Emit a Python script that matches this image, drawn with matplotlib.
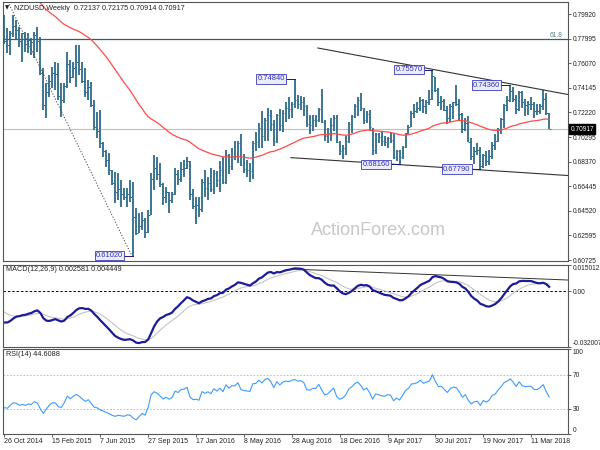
import numpy as np
import matplotlib.pyplot as plt

plt.rcParams['font.family'] = ['Liberation Sans', 'DejaVu Sans']

# NZDUSD weekly bars, 26 Oct 2014 .. 22 Apr 2018
highs = [
    .7984, .7880, .7860, .7984, .7945, .7890, .7843, .7851, .7843, .7804,
    .7851, .7890, .7812, .7570, .7452, .7515, .7577, .7617, .7609, .7452,
    .7452, .7695, .7632, .7617, .7749, .7749, .7617, .7570, .7476, .7460,
    .7319, .7225, .7241, .6991, .6925, .6904, .6771, .6756, .6748, .6693,
    .6631, .6631, .6693, .6678, .6474, .6435, .6443, .6396, .6458, .6748,
    .6889, .6873, .6826, .6670, .6638, .6600, .6599, .6787, .6771, .6834,
    .6850, .6873, .6840, .6620, .6560, .6560, .6700, .6770, .6720, .6790,
    .6770, .6760, .6840, .6870, .6930, .6900, .6940, .7000, .7000, .7050,
    .6900, .6850, .6830, .7000, .7070, .7140, .7230, .7180, .7260, .7240,
    .7160, .7210, .7250, .7240, .7300, .7340, .7300, .7484, .7360, .7350,
    .7340, .7280, .7200, .7200, .7200, .7260, .7403, .7160, .7100, .7180,
    .7200, .7200, .7000, .6970, .7040, .7150, .7200, .7290, .7340, .7375,
    .7260, .7230, .7240, .7100, .7060, .7060, .7070, .7040, .7030, .7060,
    .7050, .6930, .6930, .6960, .7060, .7120, .7230, .7290, .7300, .7340,
    .7330, .7320, .7400, .7557, .7500, .7410, .7350, .7330, .7270, .7290,
    .7300, .7435, .7330, .7220, .7180, .7190, .7020, .6950, .6980, .6950,
    .6900, .6920, .6930, .6990, .7050, .7100, .7180, .7290, .7350, .7436,
    .7420, .7360, .7390, .7390, .7330, .7310, .7340, .7300, .7290, .7290,
    .7400, .7370, .72175]
lows = [
    .7760, .7690, .7670, .7812, .7789, .7734, .7617, .7695, .7687, .7671,
    .7648, .7695, .7515, .7241, .7178, .7343, .7413, .7397, .7319, .7186,
    .7296, .7413, .7452, .7491, .7421, .7515, .7452, .7343, .7319, .7265,
    .7084, .7022, .6944, .6873, .6795, .6732, .6654, .6514, .6537, .6482,
    .6537, .6482, .6521, .6102, .6263, .6279, .6302, .6239, .6279, .6420,
    .6615, .6693, .6638, .6498, .6514, .6435, .6514, .6576, .6654, .6678,
    .6717, .6780, .6537, .6470, .6346, .6400, .6440, .6560, .6540, .6600,
    .6580, .6640, .6600, .6660, .6660, .6740, .6770, .6850, .6830, .6800,
    .6750, .6720, .6680, .6700, .6920, .6940, .6940, .7000, .7000, .7080,
    .6960, .6980, .7080, .7070, .7150, .7170, .7180, .7260, .7250, .7240,
    .7190, .7110, .7050, .7080, .7110, .7150, .7140, .7000, .6980, .7000,
    .7080, .6980, .6890, .6860, .6890, .6980, .7060, .7180, .7190, .7230,
    .7130, .7140, .7080, .6890, .6900, .6980, .6960, .6960, .6940, .6980,
    .6860, .6840, .6816, .6860, .6940, .7050, .7110, .7180, .7220, .7230,
    .7220, .7210, .7280, .7320, .7380, .7270, .7240, .7230, .7130, .7150,
    .7170, .7270, .7160, .7060, .7080, .6990, .6850, .6820, .6890, .6779,
    .6790, .6800, .6810, .6860, .6930, .6990, .7050, .7100, .7230, .7300,
    .7300, .7210, .7230, .7260, .7190, .7200, .7240, .7180, .7200, .7210,
    .7240, .7200, .70914]
closes = [
    .7780, .7750, .7840, .7900, .7870, .7780, .7800, .7760, .7790, .7770,
    .7830, .7780, .7530, .7280, .7380, .7470, .7530, .7520, .7350, .7320,
    .7430, .7600, .7500, .7570, .7620, .7560, .7470, .7380, .7420, .7280,
    .7110, .7080, .6980, .6920, .6850, .6770, .6670, .6600, .6620, .6580,
    .6560, .6580, .6560, .6400, .6280, .6330, .6380, .6290, .6420, .6700,
    .6790, .6740, .6660, .6560, .6600, .6540, .6580, .6740, .6700, .6780,
    .6790, .6840, .6580, .6490, .6500, .6470, .6680, .6630, .6670, .6620,
    .6750, .6690, .6770, .6680, .6890, .6800, .6880, .6880, .6980, .6810,
    .6780, .6770, .6760, .6980, .6990, .7100, .7040, .7160, .7200, .7130,
    .7000, .7200, .7120, .7220, .7260, .7250, .7290, .7320, .7290, .7300,
    .7270, .7130, .7120, .7160, .7160, .7250, .7150, .7040, .7060, .7120,
    .7180, .6990, .6920, .6940, .7000, .7130, .7190, .7270, .7320, .7260,
    .7160, .7210, .7110, .6930, .7050, .7030, .7000, .6990, .7020, .7010,
    .6870, .6920, .6870, .6950, .7060, .7110, .7220, .7230, .7260, .7320,
    .7270, .7300, .7330, .7510, .7400, .7300, .7310, .7240, .7180, .7270,
    .7300, .7290, .7210, .7090, .7140, .6990, .6880, .6920, .6930, .6800,
    .6890, .6840, .6880, .6970, .7000, .7090, .7170, .7280, .7320, .7390,
    .7330, .7250, .7380, .7300, .7280, .7290, .7290, .7230, .7230, .7270,
    .7330, .72137, .70917]

date_labels = ['26 Oct 2014', '15 Feb 2015', '7 Jun 2015', '27 Sep 2015',
               '17 Jan 2016', '8 May 2016', '28 Aug 2016', '18 Dec 2016',
               '9 Apr 2017', '30 Jul 2017', '19 Nov 2017', '11 Mar 2018']
price_ticks = ['0.79920', '0.77995', '0.76070', '0.74145', '0.72220', '0.70295',
               '0.68370', '0.66445', '0.64520', '0.62595', '0.60725']

# indicator state before the first visible bar
ma55_seed = 0.826
ema12_seed, ema26_seed, signal_seed = 0.794, 0.812, -0.0105
rsi_gain_seed, rsi_loss_seed = 0.0038, 0.0085

# annotations: (bar index, price)
peak_labels = [(97, .7484, '0.74840'), (143, .7557, '0.75570'), (169, .7436, '0.74360')]
trough_labels = [(43, .6102, '0.61020'), (132, .6816, '0.68160'), (159, .6779, '0.67790')]
upper_trend = [(104.7, .7726), (188.3, .7362)]
lower_trend = [(95.7, .6868), (188.3, .6728)]
fib_high, fib_low = (-14.5, .8840), (42.5, .6102)
macd_trend = [(95.7, .0127), (188.3, .0064)]


def ema(values, period, seed):
    k = 2.0 / (period + 1)
    out, prev = [], seed
    for v in values:
        prev = prev + k * (v - prev)
        out.append(prev)
    return np.array(out)


c = np.array(closes)
idx = np.arange(len(c))
ma55 = ema(c, 55, ma55_seed)
macd = ema(c, 12, ema12_seed) - ema(c, 26, ema26_seed)
signal = ema(macd, 9, signal_seed)

ag, al = rsi_gain_seed, rsi_loss_seed
rsi = [100 - 100 / (1 + ag / al)]
for d in np.diff(c):
    ag = (ag * 13 + max(d, 0)) / 14
    al = (al * 13 + max(-d, 0)) / 14
    rsi.append(100 - 100 / (1 + ag / al))

bar_col = '#2d6b8a'
frame_col = '#555555'
fs = 4.8

fig = plt.figure(figsize=(6, 4.5), dpi=100)
ax1 = fig.add_axes([3/600, 1-261/450, 565/600, 259/450])
ax2 = fig.add_axes([3/600, 1-347/450, 565/600, 82/450])
ax3 = fig.add_axes([3/600, 1-434/450, 565/600, 85/450])

for ax in (ax1, ax2, ax3):
    ax.set_xlim(-0.5, 188.3)
    ax.yaxis.tick_right()
    ax.tick_params(axis='y', labelsize=fs, length=2, width=0.5, pad=1.5, colors='#222222')
    ax.tick_params(axis='x', bottom=False, labelbottom=False)
    for s in ax.spines.values():
        s.set_color(frame_col)
        s.set_linewidth(0.8)

# ---- price panel
ax1.set_ylim(0.60593, 0.80859)
ax1.set_yticks(0.7992 - 0.01925 * np.arange(len(price_ticks)))
ax1.set_yticklabels(price_ticks)

fib_level = fib_low[1] + 0.618 * (fib_high[1] - fib_low[1])
ax1.axhline(fib_level, color='#3d5a66', lw=0.9)
ax1.text(186.5, fib_level + 0.0004, '61.8', fontsize=fs, color='#5a7a88', ha='right', va='bottom')
ax1.axhline(closes[-1], color='#c0c0c0', lw=0.8)

ax1.vlines(idx, lows, highs, color=bar_col, lw=1.3)
ax1.hlines(closes, idx, idx + 0.5, color=bar_col, lw=0.7)
ax1.plot(idx, ma55, color='#ff4a4a', lw=0.9)

ax1.plot(*zip(*upper_trend), color='#333333', lw=0.8)
ax1.plot(*zip(*lower_trend), color='#333333', lw=0.8)
ax1.plot([fib_high[0], fib_low[0]], [fib_high[1], fib_low[1]],
         color='#444444', lw=0.7, ls=(0, (1.2, 1.8)))

for i, p, txt in peak_labels + trough_labels:
    ax1.plot([i - 3, i], [p, p], color='#1a1a80', lw=0.7)
    ax1.text(i - 3.3, p, txt, fontsize=fs + 0.6, color='#3030b0', ha='right', va='center',
             bbox=dict(boxstyle='square,pad=0.15', fc='#ececff', ec='#3a3ac0', lw=0.6))

ax1.text(1.004, closes[-1], '0.70917', transform=ax1.get_yaxis_transform(),
         fontsize=fs, color='white', ha='left', va='center',
         bbox=dict(boxstyle='square,pad=0.2', fc='black', ec='black'))

ax1.text(125, 0.6298, 'ActionForex.com', fontsize=13, color='#c8c8c8',
         ha='center', va='center')
fig.text(5/600, 1-8/450, '▼', fontsize=4, color='#222222', va='center',
         family=['DejaVu Sans'])
fig.text(14/600, 1-8/450, 'NZDUSD,Weekly  0.72137 0.72175 0.70914 0.70917',
         fontsize=5.2, color='#222222', va='center')

# ---- MACD panel
ax2.set_ylim(-0.032007, 0.015012)
ax2.set_yticks([0.015012, 0.0, -0.032007])
ax2.set_yticklabels(['0.015012', '0.00', '-0.032007'])
labs = ax2.get_yticklabels()
labs[0].set_va('top')
labs[2].set_va('bottom')
ax2.axhline(0, color='black', lw=0.7, ls=(0, (2.5, 2)))
ax2.plot(idx, signal, color='#c4c4c4', lw=0.8)
ax2.plot(idx, macd, color='#1c1c9a', lw=1.6)
ax2.plot(*zip(*macd_trend), color='#333333', lw=0.7)
ax2.text(0.5, 0.0125, 'MACD(12,26,9) 0.002581 0.004449',
         fontsize=5.2, color='#222222', va='center')

# ---- RSI panel
ax3.set_ylim(0, 100)
ax3.set_yticks([100, 70, 30, 0])
ax3.set_yticklabels(['100', '70', '30', '0'])
labs = ax3.get_yticklabels()
labs[0].set_va('top')
labs[3].set_va('bottom')
for lvl in (70, 30):
    ax3.axhline(lvl, color='#b4b4b4', lw=0.6, ls=(0, (2, 2)))
ax3.plot(idx, rsi, color='#3c9cff', lw=0.8)
ax3.text(0.5, 94, 'RSI(14) 44.6088', fontsize=5.2, color='#222222', va='center')

ax3.tick_params(axis='x', bottom=True, labelbottom=True, labelsize=fs + 0.2,
                length=2, width=0.5, pad=1, colors='#222222')
ax3.set_xticks(np.arange(0, 16 * len(date_labels), 16))
ax3.set_xticklabels(date_labels, ha='left')

fig.savefig('out.png', dpi=100)
